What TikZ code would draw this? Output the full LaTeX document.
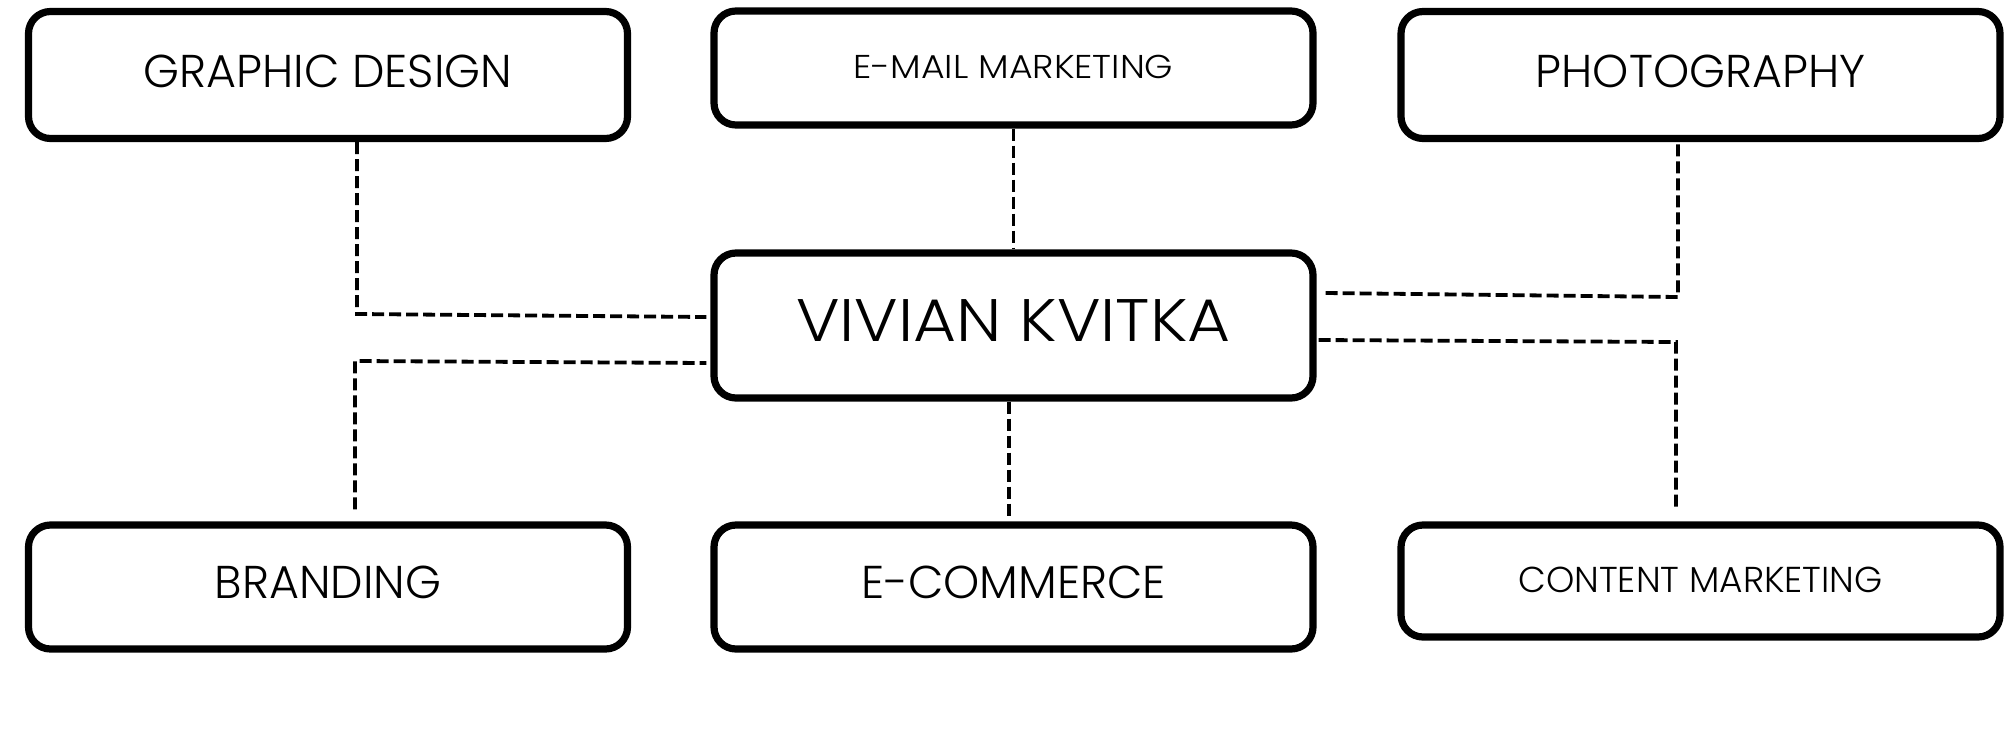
\documentclass[tikz,border=0pt]{standalone}
\usepackage{fontspec}
\newfontfamily\boxfont{Poppins Light}
\newfontfamily\wideboxfont{Poppins Light}[FakeStretch=1.1]
\usetikzlibrary{calc}
\tikzset{
  card/.style={draw=black, line width=3.6pt, rounded corners=11pt, fill=white,
    inner sep=0pt, minimum width=299.5pt, align=center},
  big/.style={font={\boxfont\fontsize{23}{23}\selectfont}},
  small/.style={font={\wideboxfont\fontsize{16.5}{16.5}\selectfont}},
  mid/.style={font={\boxfont\fontsize{18}{18}\selectfont}},
  huge/.style={font={\wideboxfont\fontsize{30}{30}\selectfont}},
  conn/.style={draw=black, line width=1.9pt, dash pattern=on 6pt off 2.5pt},
}
\begin{document}
\begin{tikzpicture}[x=0.5pt, y=-0.5pt]
\useasboundingbox (0,0) rectangle (2013,745);
% boxes
\node[card, big, minimum height=63.5pt, text depth=4pt] (gd) at (328,75) {GRAPHIC DESIGN};
\node[card, small, minimum height=57pt, text depth=1pt] (em) at (1013.5,68) {E-MAIL MARKETING};
\node[card, big, minimum height=63.5pt, text depth=4pt] (ph) at (1700.5,75) {PHOTOGRAPHY};
\node[card, huge, minimum height=72.5pt, text depth=4.5pt] (vk) at (1013.5,325.5) {VIVIAN KVITKA};
\node[card, big, minimum height=62pt, text depth=5pt] (br) at (328,587) {BRANDING};
\node[card, big, minimum height=62pt, text depth=5pt] (ec) at (1013.5,587) {E-COMMERCE};
\node[card, mid, minimum height=56pt, text depth=1.5pt] (cm) at (1700.5,581) {CONTENT MARKETING};
% helper coordinates
\coordinate (xgd) at (357,314);
\coordinate (ygd) at (0,317);
\coordinate (xbr) at (355,361);
\coordinate (ybr) at (0,363);
\coordinate (xph) at (1678,297);
\coordinate (yph) at (0,293);
\coordinate (xcm) at (1676,342);
\coordinate (ycm) at (0,340);
\coordinate (xec) at (1009,0);
% connectors
\draw[conn] (gd.south -| xgd) -- (xgd) -- ($(vk.west |- ygd)+(-4,0)$);
\draw[conn] ($(br.north -| xbr)+(0,-12)$) -- (xbr) -- ($(vk.west |- ybr)+(-4,0)$);
\draw[conn] (em.south) -- (vk.north);
\draw[conn] (vk.south -| xec) -- ($(ec.north -| xec)+(0,-3)$);
\draw[conn] ($(vk.east |- yph)+(9,0)$) -- (xph) -- (ph.south -| xph);
\draw[conn] ($(vk.east |- ycm)+(2,0)$) -- (xcm) -- ($(cm.north -| xcm)+(0,-10)$);
\end{tikzpicture}
\end{document}
